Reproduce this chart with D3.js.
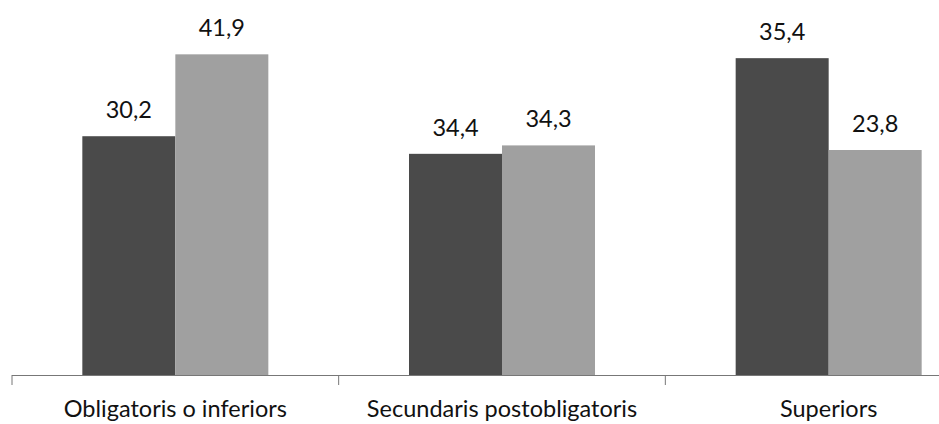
<!DOCTYPE html>
<html>
<head>
<meta charset="utf-8">
<script src="https://cdn.jsdelivr.net/npm/d3@7"></script>
<style>
  body { margin: 0; background: #fff; }
  text { font-family: Lato, "Open Sans", sans-serif; fill: #111; }
</style>
</head>
<body>
<div id="chart"></div>
<script>
// categories and series
var categories = ["Obligatoris o inferiors", "Secundaris postobligatoris", "Superiors"];
var series = ["s1", "s2"];
// bar heights as drawn in the picture
var darkValues = [31.2, 28.9, 41.4];
var lightValues = [41.9, 30.0, 29.4];
// labels printed above the bars
var darkLabels = ["30,2", "34,4", "35,4"];
var lightLabels = ["41,9", "34,3", "23,8"];

var colors = {s1: "#4a4a4a", s2: "#a0a0a0"};

var width = 939, height = 424;
var svg = d3.select("#chart").append("svg").attr("width", width).attr("height", height);

var x = d3.scaleBand().domain(categories).range([12, 992]).paddingInner(0).paddingOuter(0);
var inner = d3.scaleBand().domain(series).range([0, 186]);
var y = d3.scaleLinear().domain([0, 49]).range([375, 0]);

var rows = categories.map(function(c, i) {
    return {cat: c, vals: [
        {s: "s1", v: darkValues[i], label: darkLabels[i]},
        {s: "s2", v: lightValues[i], label: lightLabels[i]}
    ]};
});

var off = (x.bandwidth() - 186) / 2;

var g = svg.selectAll("g.grp").data(rows).enter().append("g")
    .attr("class", "grp")
    .attr("transform", function(d){ return "translate(" + (x(d.cat) + off) + ",0)"; });

g.selectAll("rect").data(function(d){ return d.vals; }).enter().append("rect")
    .attr("x", function(d){ return inner(d.s); })
    .attr("width", inner.bandwidth())
    .attr("y", function(d){ return y(d.v); })
    .attr("height", function(d){ return y(0) - y(d.v); })
    .attr("fill", function(d){ return colors[d.s]; });

g.selectAll("text").data(function(d){ return d.vals; }).enter().append("text")
    .attr("x", function(d){ return inner(d.s) + inner.bandwidth() / 2; })
    .attr("y", function(d){ return y(d.v) - 18; })
    .attr("text-anchor", "middle")
    .style("font-size", "23.5px")
    .text(function(d){ return d.label; });

// x axis
var axis = d3.axisBottom(x).tickSize(10).tickFormat("");
var ax = svg.append("g").attr("transform", "translate(0," + y(0) + ")").call(axis);
ax.select(".domain").attr("stroke", "#777").attr("d", "M12,0.5H939");
ax.selectAll(".tick").remove();
// ticks on category boundaries
var bounds = [12, x(categories[1]), x(categories[2])];
ax.selectAll("line.b").data(bounds).enter().append("line")
    .attr("class", "b")
    .attr("x1", function(d){ return d; }).attr("x2", function(d){ return d; })
    .attr("y1", 0).attr("y2", 10)
    .attr("stroke", "#777");

svg.selectAll("text.cat").data(categories).enter().append("text")
    .attr("class", "cat")
    .attr("x", function(d){ return x(d) + x.bandwidth() / 2; })
    .attr("y", 417)
    .attr("text-anchor", "middle")
    .style("font-size", "23.5px")
    .text(function(d){ return d; });
</script>
</body>
</html>
